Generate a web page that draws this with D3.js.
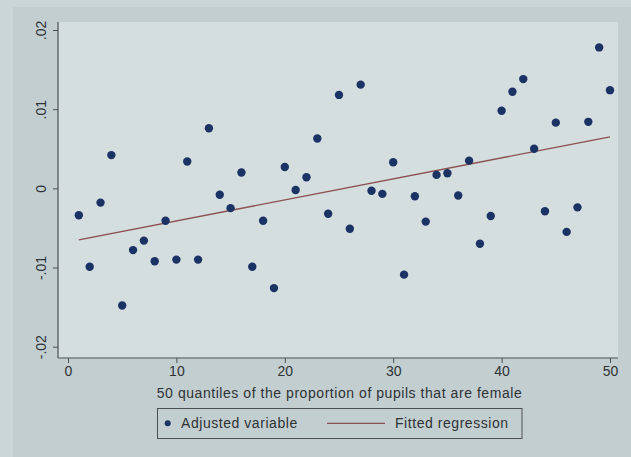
<!DOCTYPE html>
<html>
<head>
<meta charset="utf-8">
<script src="https://cdn.jsdelivr.net/npm/d3@7"></script>
<style>
  body { margin: 0; background: #cbd6d8; }
  svg { display: block; font-family: "Liberation Sans", Arial, sans-serif; }
</style>
</head>
<body>
<svg width="631" height="457"></svg>
<script>
/* data */
var quantiles = d3.range(1, 51)
var adjusted = [
  -0.0034, -0.0099, -0.0018, 0.0042, -0.0148, -0.0078, -0.0066, -0.0092, -0.0041, -0.0090,
   0.0034, -0.0090,  0.0076, -0.0008, -0.0025,  0.0020, -0.0099, -0.0041, -0.0126,  0.0027,
  -0.0002,  0.0014,  0.0063, -0.0032,  0.0118, -0.0051,  0.0131, -0.0003, -0.0007,  0.0033,
  -0.0109, -0.0010, -0.0042,  0.0017,  0.0019, -0.0009,  0.0035, -0.0070, -0.0035,  0.0098,
   0.0122,  0.0138,  0.0050, -0.0029,  0.0083, -0.0055, -0.0024,  0.0084,  0.0178,  0.0124
]
var fitX = [1, 50]
var fitY = [-0.0065, 0.0065]

var xTicks = [0, 10, 20, 30, 40, 50]
var yTicks = [-0.02, -0.01, 0, 0.01, 0.02]
var yTickLabels = ["-.02", "-.01", "0", ".01", ".02"]

var xTitle = "50 quantiles of the proportion of pupils that are female"
var legendLabels = ["Adjusted variable", "Fitted regression"]

/* layout */
var plot_left = 58, plot_right = 618, plot_top = 22, plot_bottom = 358
var dot_color = "#1b3264"
var fit_color = "#8a4f4f"
var axis_color = "#4a5052"
var text_color = "#2e3335"

var svg = d3.select("svg")

var x = d3.scaleLinear().domain([0, 50]).range([68, 610])
var y = d3.scaleLinear().domain([-0.02, 0.02]).range([346.7, 30])

/* backgrounds */
svg.append("rect")
    .attr("x", 13).attr("y", 7)
    .attr("width", 618).attr("height", 450)
    .attr("fill", "#c3ced1")

svg.append("rect")
    .attr("x", plot_left).attr("y", plot_top)
    .attr("width", plot_right - plot_left).attr("height", plot_bottom - plot_top)
    .attr("fill", "#d4dedf")

/* y axis */
var gy = svg.append("g")
    .attr("transform", "translate(" + plot_left + ",0)")
    .call(d3.axisLeft(y)
        .tickValues(yTicks)
        .tickSize(5)
        .tickFormat(function(d, i) { return yTickLabels[i] }))
gy.select(".domain").remove()
gy.selectAll("line").attr("stroke", axis_color)
gy.selectAll("text")
    .attr("transform", "rotate(-90)")
    .attr("x", 0)
    .attr("y", -12)
    .attr("dy", 0)
    .attr("text-anchor", "middle")
    .attr("fill", text_color)
    .style("font-size", "14px")

svg.append("line")
    .attr("x1", plot_left).attr("x2", plot_left)
    .attr("y1", plot_top).attr("y2", plot_bottom)
    .attr("stroke", axis_color)
    .attr("stroke-width", 1.2)

/* x axis */
var gx = svg.append("g")
    .attr("transform", "translate(0," + plot_bottom + ")")
    .call(d3.axisBottom(x)
        .tickValues(xTicks)
        .tickSize(5))
gx.select(".domain").remove()
gx.selectAll("line").attr("stroke", axis_color)
gx.selectAll("text")
    .attr("fill", text_color)
    .style("font-size", "14px")

svg.append("line")
    .attr("x1", plot_left).attr("x2", plot_right)
    .attr("y1", plot_bottom).attr("y2", plot_bottom)
    .attr("stroke", axis_color)
    .attr("stroke-width", 1.2)

svg.append("text")
    .text(xTitle)
    .attr("x", 339.5)
    .attr("y", 397.5)
    .attr("text-anchor", "middle")
    .attr("fill", text_color)
    .style("font-size", "14px")
    .style("letter-spacing", "0.55px")

/* fitted regression */
var line = d3.line()
    .x(function(d) { return x(d[0]) })
    .y(function(d) { return y(d[1]) })

svg.append("path")
    .datum(d3.zip(fitX, fitY))
    .attr("d", line)
    .attr("fill", "none")
    .attr("stroke", fit_color)
    .attr("stroke-width", 1.4)

/* points */
svg.append("g")
    .selectAll("circle")
    .data(d3.zip(quantiles, adjusted))
    .enter()
    .append("circle")
    .attr("cx", function(d) { return x(d[0]) })
    .attr("cy", function(d) { return y(d[1]) })
    .attr("r", 4.2)
    .attr("fill", dot_color)

/* legend */
var legend = svg.append("g")
legend.append("rect")
    .attr("x", 157.5).attr("y", 408.5)
    .attr("width", 364.5).attr("height", 30)
    .attr("fill", "none")
    .attr("stroke", axis_color)
    .attr("stroke-width", 1)

legend.append("circle")
    .attr("cx", 167.7).attr("cy", 423.3)
    .attr("r", 3)
    .attr("fill", dot_color)

legend.append("line")
    .attr("x1", 327).attr("x2", 385)
    .attr("y1", 423.3).attr("y2", 423.3)
    .attr("stroke", fit_color)
    .attr("stroke-width", 1.2)

legend.selectAll("text.leg")
    .data(legendLabels)
    .enter()
    .append("text")
    .attr("class", "leg")
    .text(function(d) { return d })
    .attr("x", function(d, i) { return i == 0 ? 181 : 395 })
    .attr("y", 428.3)
    .attr("fill", text_color)
    .style("font-size", "14px")
    .style("letter-spacing", "0.55px")
</script>
</body>
</html>
